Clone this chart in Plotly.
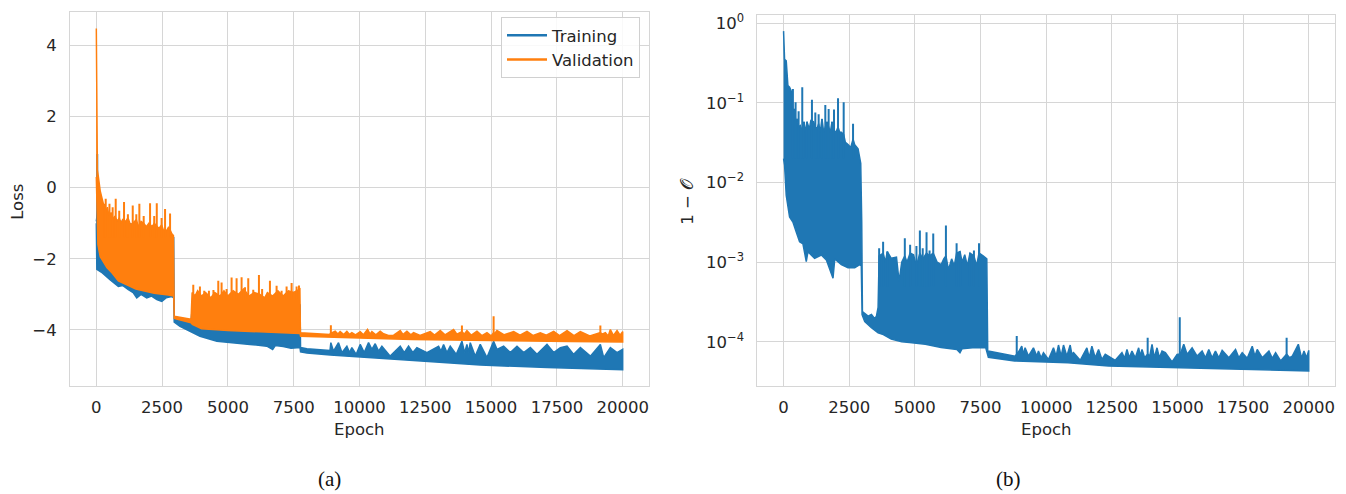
import plotly.graph_objects as go

# ---------------- data ----------------
# (a) Loss, Training: dense band (upper / lower edge) + isolated narrow spikes
tr_up_epoch = [0, 60, 300, 700, 1200, 1700, 2200, 2700, 2940, 2960, 3300, 3600, 3650, 7740, 7760, 8000, 8880,
               8911, 9013, 9203, 9330, 9520, 9621, 9710, 9875, 10027, 10179, 10344, 10470, 10597, 10724, 10851, 11167,
               11548, 11700, 11864, 12029, 12181, 12561, 13005, 13094, 13195, 13322, 13448, 13677, 13892, 13994, 14082,
               14146, 14209, 14399, 14589, 14843, 15096, 15223, 15476, 15730, 15984, 16237, 16491, 16744, 17124, 17378,
               17631, 17885, 18138, 18392, 18772, 19152, 19279, 19532, 19786, 20000]
tr_up_loss = [-0.95, -0.6, -0.7, -0.9, -1.0, -1.1, -1.2, -1.3, -1.4, -3.70, -3.74, -3.78, -3.3, -3.3, -4.50, -4.53, -4.58,
              -4.36, -4.60, -4.36, -4.64, -4.46, -4.64, -4.50, -4.69, -4.41, -4.64, -4.36, -4.55, -4.39, -4.60, -4.46,
              -4.74, -4.46, -4.64, -4.46, -4.64, -4.50, -4.64, -4.46, -4.60, -4.41, -4.64, -4.46, -4.69, -4.32, -4.64,
              -4.41, -4.64, -4.36, -4.74, -4.41, -4.78, -4.32, -4.55, -4.46, -4.64, -4.46, -4.64, -4.50, -4.69, -4.41,
              -4.64, -4.50, -4.46, -4.69, -4.50, -4.74, -4.41, -4.78, -4.50, -4.64, -4.55]
tr_lo_epoch = [0, 20, 230, 520, 837, 1000, 1217, 1400, 1536, 1700, 1916, 2100, 2300, 2487, 2650, 2867, 2940, 2960, 3180,
               3560, 3940, 4580, 5210, 5840, 6480, 6700, 6800, 7100, 7400, 7680, 7740, 7760, 8000, 8890, 10000, 12050,
               14590, 17130, 20000]
tr_lo_loss = [-1.0, -2.30, -2.40, -2.59, -2.78, -2.75, -2.87, -2.95, -3.10, -3.00, -3.10, -3.05, -3.15, -3.20, -3.10, -3.06,
              -3.10, -3.78, -3.90, -4.04, -4.18, -4.32, -4.36, -4.41, -4.46, -4.55, -4.44, -4.47, -4.52, -4.50, -4.50,
              -4.62, -4.65, -4.71, -4.77, -4.86, -4.99, -5.06, -5.12]
tr_spike_epoch = [35]
tr_spike_top = [0.95]
tr_spike_base = -1.0

# (a) Loss, Validation
va_up_epoch = [0, 15, 40, 80, 150, 250, 350, 420, 480, 560, 640, 700, 800, 870, 940, 1000, 1120, 1200, 1300, 1450, 1520,
               1600, 1700, 1800, 1900, 2000, 2120, 2200, 2380, 2480, 2550, 2680, 2750, 2870, 2930, 2960, 3300, 3600,
               3640, 3750, 3850, 4000, 4150, 4350, 4500, 4700, 4850, 5000, 5200, 5400, 5600, 5800, 6000, 6200, 6400,
               6500, 6700, 6900, 7100, 7300, 7500, 7735, 7755, 8000, 8500, 8870, 8912, 8960, 9076, 9180, 9266, 9400,
               9520, 9620, 9710, 9850, 10027, 10150, 10306, 10400, 10470, 10620, 10787, 10914, 11100, 11300, 11548,
               11650, 11801, 11950, 12055, 12300, 12688, 12850, 13068, 13250, 13575, 13700, 13892, 13980, 14082, 14250,
               14463, 14650, 14843, 15000, 15096, 15140, 15223, 15500, 15857, 16100, 16364, 16600, 16871, 17100, 17378,
               17600, 17885, 18150, 18392, 18750, 19152, 19220, 19342, 19450, 19532, 19650, 19786, 19900, 20000]
va_up_loss = [4.48, 1.5, 0.5, 0.3, -0.1, -0.4, -0.7, -0.55, -0.8, -0.7, -0.9, -0.8, -0.95, -0.85, -1.0, -0.9, -0.95, -0.85,
              -1.05, -0.95, -0.9, -1.1, -0.95, -1.0, -1.1, -1.0, -1.1, -1.0, -1.15, -1.05, -1.2, -1.2, -1.1, -1.3, -1.35,
              -3.62, -3.66, -3.70, -2.95, -3.05, -2.9, -3.05, -2.95, -3.1, -2.95, -3.05, -2.9, -3.05, -2.9, -3.0, -2.85,
              -3.05, -2.95, -3.0, -3.1, -2.95, -3.05, -2.9, -3.05, -2.9, -2.95, -2.85, -4.08, -4.09, -4.11, -4.13, -4.08,
              -4.08, -4.04, -4.12, -4.05, -4.13, -4.04, -4.13, -4.08, -4.14, -4.05, -4.14, -3.99, -4.12, -4.05, -4.14,
              -4.04, -4.11, -4.16, -4.15, -4.02, -4.13, -4.04, -4.14, -4.08, -4.16, -4.05, -4.15, -4.02, -4.14, -3.99,
              -4.12, -4.05, -4.12, -4.02, -4.15, -4.04, -4.16, -4.08, -4.17, -4.08, -4.10, -4.02, -4.14, -4.05, -4.15,
              -4.04, -4.16, -4.08, -4.15, -4.04, -4.16, -4.02, -4.16, -4.05, -4.17, -4.08, -4.12, -4.08, -4.17, -3.99,
              -4.16, -4.02, -4.15, -4.05]
va_lo_epoch = [0, 20, 60, 150, 200, 400, 600, 837, 1200, 1500, 1852, 2200, 2738, 2940, 2960, 3300, 3600, 3650, 4000, 5000,
               6000, 7000, 7740, 7760, 8880, 10000, 12000, 14000, 16000, 18000, 20000]
va_lo_loss = [0.3, -0.5, -1.6, -1.95, -2.0, -2.25, -2.4, -2.62, -2.75, -2.85, -2.92, -2.97, -3.02, -3.05, -3.68, -3.74,
              -3.80, -3.85, -3.97, -4.02, -4.05, -4.08, -4.10, -4.18, -4.20, -4.23, -4.27, -4.30, -4.31, -4.33, -4.34]
va_spike1_epoch = [300, 357, 500, 620, 737, 870, 1053, 1200, 1384, 1520, 1635, 1800, 2042, 2200, 2297, 2480, 2612, 2802]
va_spike1_top = [-0.45, -0.31, -0.45, -0.55, -0.31, -0.65, -0.40, -0.75, -0.50, -0.75, -0.45, -0.80, -0.44, -0.80, -0.44,
                 -0.85, -0.60, -0.73]
va_spike1_base = -1.4
va_spike2_epoch = [3684, 3937, 4100, 4279, 4450, 4634, 4760, 4950, 5140, 5330, 5520, 5650, 5773, 5963, 6179, 6300, 6597,
                   6850, 7040, 7230, 7420, 7610, 7700]
va_spike2_top = [-2.73, -2.78, -2.90, -2.90, -2.88, -2.62, -2.67, -2.85, -2.53, -2.55, -2.52, -2.80, -2.55, -2.87, -2.46,
                 -2.85, -2.62, -2.76, -2.90, -2.78, -2.68, -2.78, -2.75]
va_spike2_base = -3.15
va_spike3_epoch = [8912, 13892, 15096, 19152]
va_spike3_top = [-3.87, -3.88, -3.62, -3.88]
va_spike3_base = -4.18

# (b) 1 - O (log scale)
inf_up_epoch = [0, 38, 102, 140, 165, 229, 293, 356, 420, 458, 522, 573, 636, 700, 776, 830, 891, 980, 1040, 1145, 1209,
                1272, 1336, 1399, 1463, 1527, 1600, 1654, 1717, 1781, 1845, 1921, 1997, 2074, 2137, 2201, 2290, 2354,
                2455, 2557, 2646, 2710, 2837, 2939, 2977, 3003, 3219, 3346, 3473, 3537, 3600, 3640, 3700, 3791, 3880,
                3950, 4100, 4300, 4400, 4500, 4618, 4700, 4820, 4950, 5060, 5191, 5300, 5445, 5560, 5700, 5850, 6000,
                6100, 6183, 6280, 6400, 6500, 6590, 6720, 6800, 6900, 7000, 7100, 7250, 7350, 7443, 7600, 7740, 7774,
                7800, 8817, 8880, 8969, 9071, 9134, 9198, 9325, 9516, 9643, 9707, 9809, 9898, 10088, 10279, 10381, 10470,
                10572, 10661, 10788, 10915, 10979, 11042, 11297, 11551, 11640, 11742, 11869, 11996, 12124, 12251, 12632,
                12887, 12989, 13078, 13166, 13268, 13396, 13523, 13586, 13650, 13752, 13866, 13943, 14032, 14121, 14222,
                14311, 14413, 14540, 14795, 14986, 15088, 15151, 15240, 15367, 15558, 15749, 15940, 16067, 16194, 16321,
                16448, 16576, 16703, 16957, 17212, 17339, 17466, 17657, 17848, 17950, 18038, 18229, 18484, 18611, 18738,
                18929, 19158, 19272, 19374, 19603, 19730, 19819, 19920, 20000]
inf_up_val = [0.80, 0.355, 0.339, 0.20, 0.166, 0.158, 0.141, 0.08, 0.084, 0.06, 0.063, 0.05, 0.052, 0.045, 0.058, 0.042,
              0.058, 0.047, 0.06, 0.058, 0.05, 0.047, 0.055, 0.043, 0.063, 0.043, 0.05, 0.058, 0.05, 0.043, 0.058, 0.045,
              0.043, 0.05, 0.043, 0.043, 0.04, 0.032, 0.030, 0.0275, 0.035, 0.030, 0.0266, 0.0174, 0.0032, 2.4e-4,
              2.1e-4, 2.2e-4, 1.95e-4, 2.1e-4, 2.7e-4, 1.2e-3, 1.24e-3, 1.3e-3, 1.0e-3, 1.36e-3, 1.12e-3, 1.16e-3,
              5.7e-4, 1.0e-3, 1.2e-3, 1.0e-3, 1.3e-3, 1.24e-3, 9.0e-4, 1.3e-3, 1.1e-3, 1.3e-3, 1.2e-3, 1.3e-3, 1.0e-3,
              9.3e-4, 1.1e-3, 1.2e-3, 8.0e-4, 1.1e-3, 9.0e-4, 1.3e-3, 1.36e-3, 1.0e-3, 1.24e-3, 9.0e-4, 1.3e-3, 1.2e-3,
              9.0e-4, 1.3e-3, 1.2e-3, 1.1e-3, 7.6e-5, 7.65e-5, 6.6e-5, 7.0e-5, 7.65e-5, 8.8e-5, 6.95e-5, 8.4e-5,
              6.6e-5, 8.4e-5, 6.6e-5, 7.65e-5, 6.3e-5, 7.3e-5, 6.0e-5, 8.4e-5, 6.6e-5, 9.1e-5, 6.6e-5, 9.1e-5, 6.6e-5,
              9.1e-5, 6.95e-5, 7.3e-5, 5.85e-5, 8.4e-5, 6.3e-5, 8.8e-5, 6.3e-5, 8.0e-5, 6.0e-5, 6.95e-5, 5.85e-5,
              7.3e-5, 6.2e-5, 8.0e-5, 6.3e-5, 7.65e-5, 6.3e-5, 8.4e-5, 6.6e-5, 8.0e-5, 6.3e-5, 7.0e-5, 6.6e-5, 9.3e-5,
              6.3e-5, 8.4e-5, 6.3e-5, 7.65e-5, 7.3e-5, 5.6e-5, 6.95e-5, 7.0e-5, 7.65e-5, 9.3e-5, 6.95e-5, 8.4e-5,
              6.6e-5, 7.65e-5, 6.3e-5, 8.0e-5, 6.3e-5, 7.65e-5, 6.3e-5, 7.8e-5, 6.3e-5, 8.0e-5, 6.3e-5, 7.3e-5, 6.2e-5,
              8.8e-5, 6.6e-5, 8.0e-5, 6.3e-5, 7.65e-5, 6.2e-5, 7.3e-5, 5.75e-5, 7.0e-5, 6.3e-5, 6.6e-5, 9.3e-5, 6.2e-5,
              7.65e-5, 6.3e-5, 7.8e-5]
inf_lo_epoch = [0, 38, 102, 229, 356, 483, 611, 738, 865, 929, 1183, 1438, 1628, 1883, 1950, 2201, 2455, 2710, 2901, 2960,
                2990, 3092, 3346, 3600, 3800, 4100, 4500, 4800, 5400, 6000, 6600, 6718, 6800, 7200, 7700, 7760, 7800, 8800,
                10833, 12379, 14924, 17468, 20000]
inf_lo_val = [0.02, 0.0166, 0.0069, 0.0037, 0.0032, 0.0024, 0.0018, 0.0017, 0.00102, 0.00135, 0.00112, 0.00123, 0.00107,
              0.00063, 0.0011, 0.00093, 0.00085, 0.00085, 0.00093, 0.0009, 2.2e-4, 1.8e-4, 1.5e-4, 1.3e-4, 1.23e-4,
              1.08e-4, 1.0e-4, 9.8e-5, 9.3e-5, 8.5e-5, 8.0e-5, 7.3e-5, 8.2e-5, 8.4e-5, 8.4e-5, 7.0e-5, 6.4e-5, 5.75e-5,
              5.47e-5, 4.97e-5, 4.73e-5, 4.52e-5, 4.3e-5]
inf_spike1_epoch = [356, 458, 573, 712, 776, 891, 1081, 1209, 1336, 1463, 1590, 1717, 1845, 1921, 2074, 2290, 2646]
inf_spike1_top = [0.150, 0.102, 0.079, 0.158, 0.058, 0.058, 0.110, 0.076, 0.072, 0.063, 0.094, 0.084, 0.058, 0.083, 0.115,
                  0.102, 0.055]
inf_spike1_base = 0.02
inf_spike2_epoch = [3640, 3791, 3950, 4618, 4820, 5060, 5191, 5300, 5445, 5560, 5700, 6183, 6590, 6720, 7100, 7250, 7443]
inf_spike2_top = [1.5e-3, 1.8e-3, 1.36e-3, 2.0e-3, 1.65e-3, 1.6e-3, 2.5e-3, 1.5e-3, 2.37e-3, 1.4e-3, 2.3e-3, 2.9e-3,
                  1.73e-3, 1.36e-3, 1.3e-3, 1.4e-3, 1.73e-3]
inf_spike2_base = 5e-4
inf_spike3_epoch = [8880, 13866, 15088, 19158]
inf_spike3_top = [1.18e-4, 1.12e-4, 2.04e-4, 1.12e-4]
inf_spike3_base = 5.9e-5

x_ticks = [0, 2500, 5000, 7500, 10000, 12500, 15000, 17500, 20000]
loss_ticks = [-4, -2, 0, 2, 4]
loss_ticktext = ["\u22124", "\u22122", "0", "2", "4"]
log_ticks = [1e-4, 1e-3, 1e-2, 1e-1, 1]
log_ticktext = ["10<sup>\u22124</sup>", "10<sup>\u22123</sup>", "10<sup>\u22122</sup>", "10<sup>\u22121</sup>",
                "10<sup>0</sup>"]

BLUE = "#1f77b4"
ORANGE = "#ff7f0e"
W, H = 1346, 494


def band_trace(up_x, up_y, lo_x, lo_y, color, xa, ya):
    return go.Scatter(x=list(up_x) + list(lo_x)[::-1], y=list(up_y) + list(lo_y)[::-1], mode="lines",
                      fill="toself", fillcolor=color, line=dict(color=color, width=1.5),
                      showlegend=False, hoverinfo="skip", xaxis=xa, yaxis=ya)


def spike_trace(ex, top, base, color, xa, ya):
    xs, ys = [], []
    for e, t in zip(ex, top):
        xs += [e, e, None]
        ys += [base, t, None]
    return go.Scatter(x=xs, y=ys, mode="lines", line=dict(color=color, width=2),
                      showlegend=False, hoverinfo="skip", xaxis=xa, yaxis=ya)


fig = go.Figure()
fig.add_trace(band_trace(tr_up_epoch, tr_up_loss, tr_lo_epoch, tr_lo_loss, BLUE, "x", "y"))
fig.add_trace(spike_trace(tr_spike_epoch, tr_spike_top, tr_spike_base, BLUE, "x", "y"))
fig.add_trace(band_trace(va_up_epoch, va_up_loss, va_lo_epoch, va_lo_loss, ORANGE, "x", "y"))
fig.add_trace(spike_trace(va_spike1_epoch, va_spike1_top, va_spike1_base, ORANGE, "x", "y"))
fig.add_trace(spike_trace(va_spike2_epoch, va_spike2_top, va_spike2_base, ORANGE, "x", "y"))
fig.add_trace(spike_trace(va_spike3_epoch, va_spike3_top, va_spike3_base, ORANGE, "x", "y"))
# legend entries
fig.add_trace(go.Scatter(x=[None], y=[None], mode="lines", name="Training",
                         line=dict(color=BLUE, width=2.5), xaxis="x", yaxis="y"))
fig.add_trace(go.Scatter(x=[None], y=[None], mode="lines", name="Validation",
                         line=dict(color=ORANGE, width=2.5), xaxis="x", yaxis="y"))

fig.add_trace(band_trace(inf_up_epoch, inf_up_val, inf_lo_epoch, inf_lo_val, BLUE, "x2", "y2"))
fig.add_trace(spike_trace(inf_spike1_epoch, inf_spike1_top, inf_spike1_base, BLUE, "x2", "y2"))
fig.add_trace(spike_trace(inf_spike2_epoch, inf_spike2_top, inf_spike2_base, BLUE, "x2", "y2"))
fig.add_trace(spike_trace(inf_spike3_epoch, inf_spike3_top, inf_spike3_base, BLUE, "x2", "y2"))

GRID = "#d6d6d6"
TXT = "#262626"
FONT = "DejaVu Sans"
FS = 16.5

common_x = dict(tickvals=x_ticks, tickformat="d", range=[-1000, 21000], showgrid=True, gridcolor=GRID,
                gridwidth=1, zeroline=False, showline=True, linecolor=GRID, linewidth=1, mirror=True,
                ticks="", tickfont=dict(family=FONT, size=FS, color=TXT), ticklabelstandoff=6)
common_y = dict(showgrid=True, gridcolor=GRID, gridwidth=1, zeroline=False, showline=True, linecolor=GRID,
                linewidth=1, mirror=True, ticks="", tickfont=dict(family=FONT, size=FS, color=TXT),
                ticklabelstandoff=9)

y_bot = 1 - 385.7 / H
fig.update_layout(
    width=W, height=H, margin=dict(l=0, r=0, t=0, b=0),
    paper_bgcolor="white", plot_bgcolor="white",
    font=dict(family=FONT, size=FS, color=TXT),
    xaxis=dict(domain=[70 / W, 649 / W], anchor="y", **common_x),
    yaxis=dict(domain=[y_bot, 1 - 9.5 / H], anchor="x", range=[-5.59, 4.93],
               tickvals=loss_ticks, ticktext=loss_ticktext, **common_y),
    xaxis2=dict(domain=[757.3 / W, 1335 / W], anchor="y2", **common_x),
    yaxis2=dict(domain=[y_bot, 1 - 11.7 / H], anchor="x2", type="log", range=[-4.56, 0.11],
                tickvals=log_ticks, ticktext=log_ticktext, **common_y),
    legend=dict(x=640 / W, y=1 - 14 / H, xanchor="right", yanchor="top",
                bgcolor="rgba(255,255,255,0.85)", bordercolor="#d0d0d0", borderwidth=1,
                font=dict(family=FONT, size=FS, color=TXT), tracegroupgap=0, itemwidth=40),
    showlegend=True,
)

ann = [
    dict(text="Epoch", x=359.5 / W, y=1 - 429 / H),
    dict(text="Epoch", x=1046 / W, y=1 - 429 / H),
    dict(text="Loss", x=18 / W, y=1 - 200 / H, textangle=-90),
    dict(text="1 \u2212 \U0001D4AA", x=688 / W, y=1 - 200 / H, textangle=-90),
]
for a in ann:
    fig.add_annotation(xref="paper", yref="paper", showarrow=False, xanchor="center", yanchor="middle",
                       font=dict(family=FONT, size=FS, color=TXT), **a)
for txt, xc in (("(a)", 329), ("(b)", 1008)):
    fig.add_annotation(xref="paper", yref="paper", showarrow=False, xanchor="center", yanchor="middle",
                       text=txt, x=xc / W, y=1 - 479 / H,
                       font=dict(family="Liberation Serif", size=21, color="#111111"))

fig.write_html("out.html")
